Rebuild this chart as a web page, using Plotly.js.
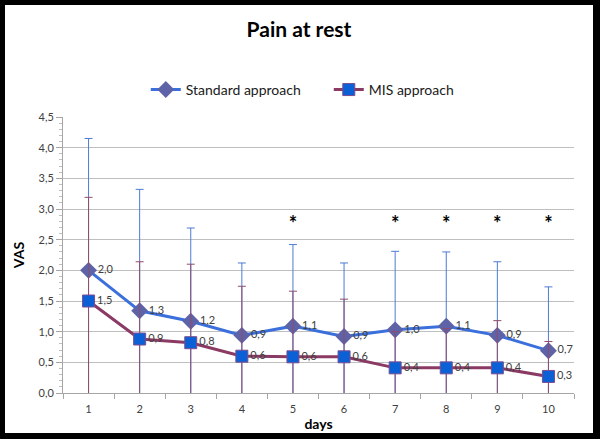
<!DOCTYPE html>
<html><head><meta charset="utf-8">
<script src="https://cdn.plot.ly/plotly-3.0.1.min.js"></script>
<style>
html,body{margin:0;padding:0;background:#000;}
#wrap{position:absolute;left:5px;top:5px;width:588px;height:428px;background:#fff;}
#chart{width:588px;height:428px;}
</style></head>
<body><div id="wrap"><div id="chart"></div></div>
<script>
const days = [1,2,3,4,5,6,7,8,9,10];
const standardMean = [2.0,1.34,1.17,0.94,1.09,0.92,1.03,1.09,0.94,0.69];
const standardUpper = [4.15,3.32,2.69,2.12,2.42,2.12,2.31,2.30,2.14,1.73];
const misMean = [1.5,0.88,0.82,0.60,0.59,0.59,0.41,0.41,0.41,0.27];
const misUpper = [3.19,2.14,2.10,1.74,1.66,1.53,1.0,1.05,1.18,0.84];
const standardLabels = ['2,0','1,3','1,2','0,9','1,1','0,9','1,0','1,1','0,9','0,7'];
const misLabels = ['1,5','0,9','0,8','0,6','0,6','0,6','0,4','0,4','0,4','0,3'];
const starDays = [5,7,8,9,10];
const starLevel = [2.72,2.72,2.72,2.72,2.72];
const yTicks = [0,0.5,1,1.5,2,2.5,3,3.5,4,4.5];

const font = 'Lato, "Liberation Sans", sans-serif';
const errStd = standardUpper.map((u,i)=>u-standardMean[i]);
const errMis = misUpper.map((u,i)=>u-misMean[i]);

const traces = [
 {x:days, y:standardMean, name:'Standard approach', type:'scatter', mode:'lines+markers+text',
  line:{color:'#3b6fdc', width:3},
  marker:{symbol:'diamond', size:13, color:'#5e62a6', line:{color:'#5e62a6', width:0}},
  text:standardLabels, textposition:'middle right', textfont:{size:11, color:'#404040', family:font},
  error_y:{type:'data', symmetric:true, array:errStd, color:'#4d7bd4', thickness:1, width:4},
  cliponaxis:true},
 {x:days, y:misMean, name:'MIS approach', type:'scatter', mode:'lines+markers+text',
  line:{color:'#8a3a63', width:3},
  marker:{symbol:'square', size:12, color:'#0b60d6', line:{color:'#7a4d90', width:1}},
  text:misLabels, textposition:'middle right', textfont:{size:11, color:'#404040', family:font},
  error_y:{type:'data', symmetric:true, array:errMis, color:'#8e4d70', thickness:1, width:4},
  cliponaxis:true},
 {x:starDays, y:starLevel, type:'scatter', mode:'text', text:starDays.map(()=>'*'),
  textfont:{size:20, color:'#000', family:font, weight:'bold'}, showlegend:false, hoverinfo:'skip', cliponaxis:false}
];

const layout = {
 width:588, height:428,
 margin:{l:58, r:19, t:112, b:40},
 paper_bgcolor:'#fff', plot_bgcolor:'#fff',
 separators:', ',
 font:{family:font, color:'#404040', size:11},
 title:{text:'<b>Pain at rest</b>', x:0.5, xanchor:'center', y:1-25/428, yanchor:'middle', yref:'container',
   font:{size:21, color:'#000', family:font}},
 showlegend:true,
 legend:{orientation:'h', x:0.162, xanchor:'left', y:1.098, yanchor:'middle', font:{size:14, color:'#202020', family:font}, itemwidth:30, entrywidth:138, traceorder:'normal'},
 xaxis:{range:[0.5,10.5], tickvals:days, ticktext:days.map(String), ticks:'', showgrid:false, zeroline:false,
   showline:true, linecolor:'#a6a6a6', linewidth:1, tickfont:{size:11, color:'#404040'}, ticklabelstandoff:6,
   minor:{tick0:0.5, dtick:1, ticks:'outside', ticklen:5, tickcolor:'#a6a6a6', showgrid:false},
   title:{text:'<b>days</b>', font:{size:14, color:'#000'}, standoff:4}},
 yaxis:{range:[0,4.5], tickvals:yTicks, tickformat:'.1f', ticks:'outside', ticklen:6, tickcolor:'#a6a6a6',
   showgrid:true, gridcolor:'#bfbfbf', gridwidth:1, zeroline:false, showline:true, linecolor:'#a6a6a6',
   tickfont:{size:11, color:'#404040'},
   minor:{dtick:0.1, ticks:'outside', ticklen:3, tickcolor:'#bfbfbf', showgrid:false},
   title:{text:'<b>VAS</b>', font:{size:14, color:'#000'}, standoff:10}}
};
Plotly.newPlot('chart', traces, layout, {displayModeBar:false, staticPlot:true});
</script></body></html>
